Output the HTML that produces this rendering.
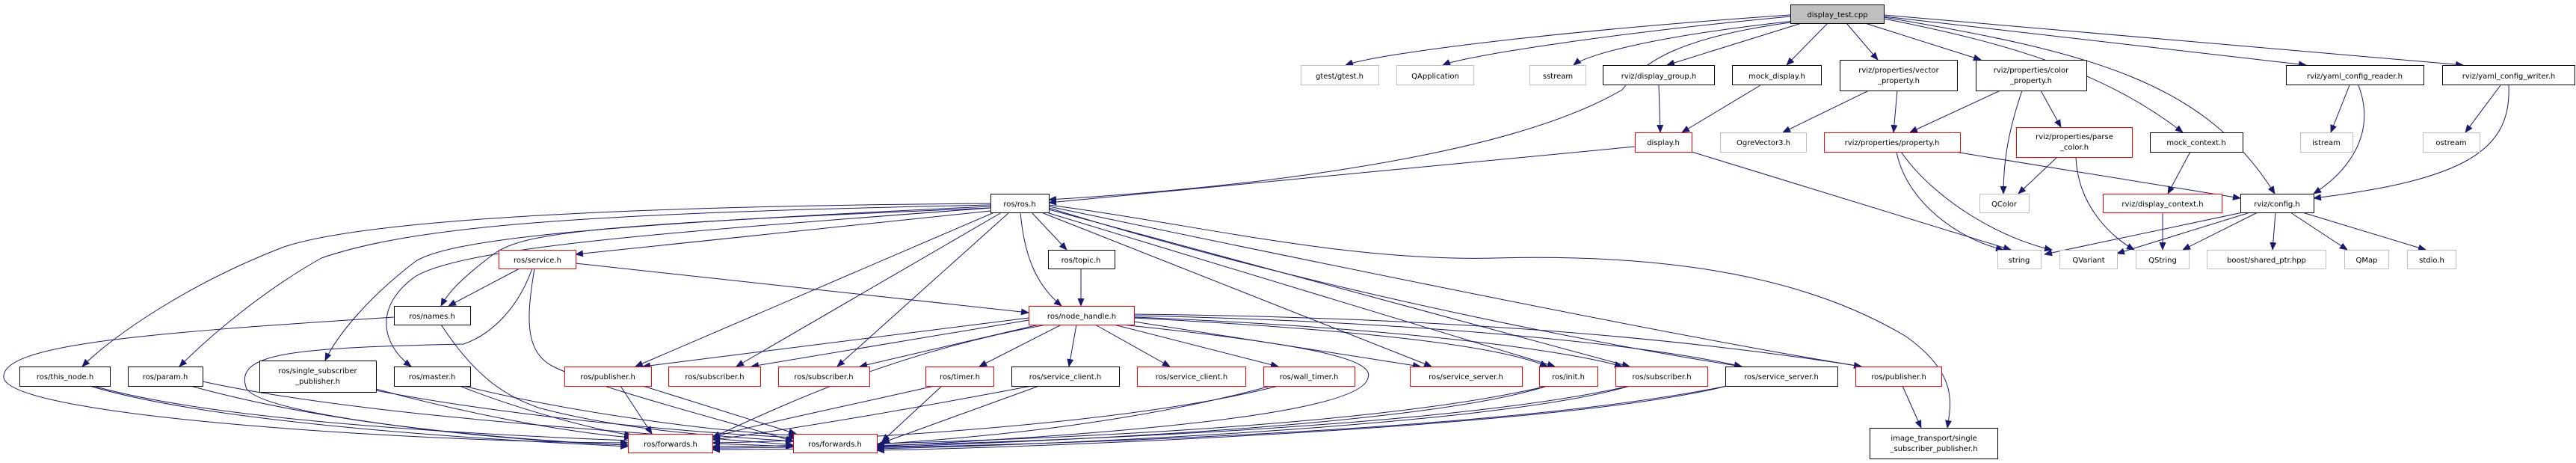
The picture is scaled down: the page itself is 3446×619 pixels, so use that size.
<!DOCTYPE html>
<html><head><meta charset="utf-8"><style>
html,body{margin:0;padding:0;background:#fff;}
svg{display:block}
text{font-family:"DejaVu Sans","Liberation Sans",sans-serif;font-size:10px;fill:#000;text-anchor:middle}
.e{fill:none;stroke:#191970;stroke-width:1;marker-end:url(#a)}
.k{fill:#fff;stroke:#000;stroke-width:1}
.r{fill:#fff;stroke:#ff0000;stroke-width:1}
.g{fill:#fff;stroke:#bfbfbf;stroke-width:1}
</style></head><body>
<svg width="3446" height="619" viewBox="0 0 3446 619" xmlns="http://www.w3.org/2000/svg">
<defs><marker id="a" markerUnits="userSpaceOnUse" markerWidth="11" markerHeight="9" refX="10" refY="4.5" orient="auto"><path d="M0,0 L11,4.5 L0,9 z" fill="#191970"/></marker></defs>
<g>
<path class="e" d="M2395,20 C2100,40 1850,70 1800,87"/>
<path class="e" d="M2395,22 C2150,45 1960,75 1930,87"/>
<path class="e" d="M2400,28 C2200,50 2120,75 2105,87"/>
<path class="e" d="M2410,31 L2230,87"/>
<path class="e" d="M2445,31 L2390,87"/>
<path class="e" d="M2470,31 L2512,80"/>
<path class="e" d="M2495,31 L2650,80"/>
<path class="e" d="M2520,25 C2700,60 2820,100 2920,177"/>
<path class="e" d="M2520,23 C2800,70 2950,110 3043,259"/>
<path class="e" d="M2520,22 L3085,87"/>
<path class="e" d="M2520,20 L3295,87"/>
<path class="e" d="M2395,30 C2250,50 2200,80 2170,120 C2000,220 1600,255 1403,267"/>
<path class="e" d="M2219,114 L2221,177"/>
<path class="e" d="M2355,114 L2250,177"/>
<path class="e" d="M2187,196 L1403,271"/>
<path class="e" d="M2263,203 L2690,334"/>
<path class="e" d="M2500,121 L2385,177"/>
<path class="e" d="M2538,121 L2533,177"/>
<path class="e" d="M2676,121 L2555,177"/>
<path class="e" d="M2705,121 C2685,180 2680,220 2680,259"/>
<path class="e" d="M2730,121 L2757,170"/>
<path class="e" d="M2615,203 L2997,265"/>
<path class="e" d="M2537,203 C2550,270 2620,320 2680,334"/>
<path class="e" d="M2543,203 C2590,270 2680,320 2745,334"/>
<path class="e" d="M2752,210 L2700,259"/>
<path class="e" d="M2777,210 C2780,280 2830,320 2855,334"/>
<path class="e" d="M2930,203 L2900,259"/>
<path class="e" d="M2893,284 L2893,334"/>
<path class="e" d="M3143,114 L3118,177"/>
<path class="e" d="M3155,114 C3180,180 3140,230 3095,259"/>
<path class="e" d="M3345,114 L3298,177"/>
<path class="e" d="M3356,114 C3360,200 3300,240 3095,265"/>
<path class="e" d="M3000,284 L2735,340"/>
<path class="e" d="M3010,284 L2832,339"/>
<path class="e" d="M3020,284 L2920,334"/>
<path class="e" d="M3044,284 L3040,334"/>
<path class="e" d="M3064,284 L3140,334"/>
<path class="e" d="M3080,284 L3245,334"/>
<path class="e" d="M1325,272 C900,275 500,290 380,330 C250,380 150,450 110,490"/>
<path class="e" d="M1325,274 C800,285 560,300 430,345 C350,390 280,450 240,490"/>
<path class="e" d="M1325,276 C800,300 600,320 555,350 C490,400 450,450 435,482"/>
<path class="e" d="M1325,278 C900,310 620,330 555,370 C500,410 510,460 550,490"/>
<path class="e" d="M1325,278 C800,300 700,310 660,340 C620,370 600,390 590,409"/>
<path class="e" d="M1325,282 L770,340"/>
<path class="e" d="M1330,284 L850,490"/>
<path class="e" d="M1340,284 L985,490"/>
<path class="e" d="M1350,284 L1120,490"/>
<path class="e" d="M1365,284 C1370,340 1385,380 1420,409"/>
<path class="e" d="M1380,284 L1427,334"/>
<path class="e" d="M1393,284 L1915,490"/>
<path class="e" d="M1400,284 L2080,490"/>
<path class="e" d="M1403,280 L2180,490"/>
<path class="e" d="M1403,278 C1800,400 2200,470 2330,490"/>
<path class="e" d="M1403,276 C1900,380 2300,460 2490,490"/>
<path class="e" d="M1403,274 C1600,300 1800,350 2000,345 C2200,340 2400,360 2550,450 C2620,500 2610,540 2605,572"/>
<path class="e" d="M1446,359 L1446,409"/>
<path class="e" d="M695,359 L600,409"/>
<path class="e" d="M770,352 L1376,418"/>
<path class="e" d="M712,359 C690,420 650,450 620,460 C400,465 310,470 330,520 C360,560 700,590 840,595"/>
<path class="e" d="M715,359 C705,420 700,470 740,490 C800,520 1000,570 1061,590"/>
<path class="e" d="M527,424 C200,445 0,460 5,505 C15,560 600,592 840,592"/>
<path class="e" d="M590,434 C640,510 680,530 720,545 C850,580 1000,585 1061,590"/>
<path class="e" d="M1376,425 L860,490"/>
<path class="e" d="M1376,428 L1005,490"/>
<path class="e" d="M1390,434 L1150,490"/>
<path class="e" d="M1420,434 L1310,490"/>
<path class="e" d="M1440,434 L1430,490"/>
<path class="e" d="M1465,434 L1565,490"/>
<path class="e" d="M1490,434 L1710,490"/>
<path class="e" d="M1517,430 L1900,490"/>
<path class="e" d="M1517,425 C1800,440 2000,460 2070,490"/>
<path class="e" d="M1517,424 C1900,440 2100,470 2170,490"/>
<path class="e" d="M1517,422 C1900,430 2200,460 2330,490"/>
<path class="e" d="M1517,420 C2000,425 2300,460 2490,490"/>
<path class="e" d="M1400,434 C1200,470 1050,540 953,585"/>
<path class="e" d="M1500,434 C1750,460 1840,480 1830,505 C1820,560 1400,585 1173,597"/>
<path class="e" d="M120,516 C300,570 700,590 840,597"/>
<path class="e" d="M125,516 C350,580 900,590 1061,597"/>
<path class="e" d="M255,516 C450,570 700,590 840,595"/>
<path class="e" d="M271,510 C500,560 900,580 1061,595"/>
<path class="e" d="M503,520 C650,560 780,580 845,585"/>
<path class="e" d="M503,522 C700,560 950,580 1065,585"/>
<path class="e" d="M615,516 C700,550 800,575 845,582"/>
<path class="e" d="M620,516 C800,560 1000,580 1065,582"/>
<path class="e" d="M830,516 L872,580"/>
<path class="e" d="M860,516 L1065,580"/>
<path class="e" d="M1250,516 C1100,550 1000,570 953,585"/>
<path class="e" d="M1260,516 L1180,590"/>
<path class="e" d="M1380,516 C1200,550 1050,575 953,588"/>
<path class="e" d="M1390,516 L1180,592"/>
<path class="e" d="M1710,516 C1500,570 1100,590 953,592"/>
<path class="e" d="M1700,516 C1500,570 1300,585 1173,594"/>
<path class="e" d="M2070,516 C1800,580 1200,595 953,597"/>
<path class="e" d="M2070,516 C1900,570 1400,590 1173,598"/>
<path class="e" d="M2180,516 C1900,580 1200,598 953,599"/>
<path class="e" d="M2180,516 C2000,570 1400,595 1173,600"/>
<path class="e" d="M2310,516 C2000,580 1300,600 953,601"/>
<path class="e" d="M2310,516 C2100,570 1400,598 1173,602"/>
<path class="e" d="M2545,516 L2570,572"/>
</g>
<g>
<rect x="2395.5" y="6.5" width="125" height="25" fill="#bfbfbf" stroke="#000"/><text x="2458" y="23">display_test.cpp</text>
<rect class="g" x="1740.5" y="87.5" width="104" height="26"/><text x="1792" y="105">gtest/gtest.h</text>
<rect class="g" x="1868.5" y="87.5" width="103" height="26"/><text x="1920" y="105">QApplication</text>
<rect class="g" x="2046.5" y="87.5" width="75" height="26"/><text x="2084" y="105">sstream</text>
<rect class="k" x="2144.5" y="87.5" width="149" height="26"/><text x="2219" y="105">rviz/display_group.h</text>
<rect class="k" x="2317.5" y="87.5" width="119" height="26"/><text x="2377" y="105">mock_display.h</text>
<rect class="k" x="2461.5" y="80.5" width="157" height="41"/><text x="2540" y="97">rviz/properties/vector</text><text x="2540" y="111">_property.h</text>
<rect class="k" x="2643.5" y="80.5" width="148" height="41"/><text x="2717" y="97">rviz/properties/color</text><text x="2717" y="111">_property.h</text>
<rect class="k" x="3058.5" y="87.5" width="184" height="26"/><text x="3150" y="105">rviz/yaml_config_reader.h</text>
<rect class="k" x="3267.5" y="87.5" width="177" height="26"/><text x="3356" y="105">rviz/yaml_config_writer.h</text>
<rect class="g" x="2301.5" y="177.5" width="115" height="26"/><text x="2359" y="194">OgreVector3.h</text>
<rect class="r" x="2187.5" y="177.5" width="76" height="26"/><text x="2225" y="194">display.h</text>
<rect class="r" x="2440.5" y="177.5" width="182" height="26"/><text x="2531" y="194">rviz/properties/property.h</text>
<rect class="r" x="2697.5" y="170.5" width="155" height="40"/><text x="2775" y="186">rviz/properties/parse</text><text x="2775" y="200">_color.h</text>
<rect class="k" x="2876.5" y="177.5" width="124" height="26"/><text x="2938" y="194">mock_context.h</text>
<rect class="g" x="3077.5" y="177.5" width="70" height="26"/><text x="3112" y="194">istream</text>
<rect class="g" x="3241.5" y="177.5" width="76" height="26"/><text x="3279" y="194">ostream</text>
<rect class="k" x="1325.5" y="259.5" width="78" height="25"/><text x="1364" y="276">ros/ros.h</text>
<rect class="g" x="2648.5" y="259.5" width="66" height="25"/><text x="2681" y="276">QColor</text>
<rect class="r" x="2813.5" y="259.5" width="159" height="25"/><text x="2893" y="276">rviz/display_context.h</text>
<rect class="k" x="2997.5" y="259.5" width="98" height="25"/><text x="3046" y="276">rviz/config.h</text>
<rect class="r" x="667.5" y="334.5" width="103" height="25"/><text x="719" y="351">ros/service.h</text>
<rect class="k" x="1402.5" y="334.5" width="89" height="25"/><text x="1446" y="351">ros/topic.h</text>
<rect class="g" x="2672.5" y="334.5" width="58" height="25"/><text x="2701" y="351">string</text>
<rect class="g" x="2755.5" y="334.5" width="77" height="25"/><text x="2794" y="351">QVariant</text>
<rect class="g" x="2857.5" y="334.5" width="71" height="25"/><text x="2893" y="351">QString</text>
<rect class="g" x="2952.5" y="334.5" width="159" height="25"/><text x="3032" y="351">boost/shared_ptr.hpp</text>
<rect class="g" x="3136.5" y="334.5" width="59" height="25"/><text x="3166" y="351">QMap</text>
<rect class="g" x="3220.5" y="334.5" width="65" height="25"/><text x="3253" y="351">stdio.h</text>
<rect class="k" x="527.5" y="409.5" width="102" height="25"/><text x="578" y="426">ros/names.h</text>
<rect class="r" x="1376.5" y="409.5" width="141" height="25"/><text x="1447" y="426">ros/node_handle.h</text>
<rect class="k" x="26.5" y="490.5" width="121" height="26"/><text x="87" y="507">ros/this_node.h</text>
<rect class="k" x="171.5" y="490.5" width="100" height="26"/><text x="221" y="507">ros/param.h</text>
<rect class="k" x="347.5" y="482.5" width="156" height="42"/><text x="425" y="499">ros/single_subscriber</text><text x="425" y="513">_publisher.h</text>
<rect class="k" x="527.5" y="490.5" width="102" height="26"/><text x="578" y="507">ros/master.h</text>
<rect class="r" x="755.5" y="490.5" width="116" height="26"/><text x="813" y="507">ros/publisher.h</text>
<rect class="r" x="894.5" y="490.5" width="123" height="26"/><text x="956" y="507">ros/subscriber.h</text>
<rect class="r" x="1041.5" y="490.5" width="122" height="26"/><text x="1102" y="507">ros/subscriber.h</text>
<rect class="r" x="1238.5" y="490.5" width="91" height="26"/><text x="1284" y="507">ros/timer.h</text>
<rect class="k" x="1353.5" y="490.5" width="144" height="26"/><text x="1425" y="507">ros/service_client.h</text>
<rect class="r" x="1521.5" y="490.5" width="145" height="26"/><text x="1594" y="507">ros/service_client.h</text>
<rect class="r" x="1690.5" y="490.5" width="122" height="26"/><text x="1751" y="507">ros/wall_timer.h</text>
<rect class="r" x="1886.5" y="490.5" width="150" height="26"/><text x="1961" y="507">ros/service_server.h</text>
<rect class="r" x="2059.5" y="490.5" width="78" height="26"/><text x="2098" y="507">ros/init.h</text>
<rect class="r" x="2161.5" y="490.5" width="123" height="26"/><text x="2223" y="507">ros/subscriber.h</text>
<rect class="k" x="2308.5" y="490.5" width="150" height="26"/><text x="2383" y="507">ros/service_server.h</text>
<rect class="r" x="2482.5" y="490.5" width="115" height="26"/><text x="2540" y="507">ros/publisher.h</text>
<rect class="r" x="840.5" y="580.5" width="113" height="25"/><text x="897" y="597">ros/forwards.h</text>
<rect class="r" x="1061.5" y="580.5" width="112" height="25"/><text x="1117" y="597">ros/forwards.h</text>
<rect class="k" x="2501.5" y="572.5" width="171" height="41"/><text x="2587" y="589">image_transport/single</text><text x="2587" y="603">_subscriber_publisher.h</text>
</g>
</svg>
</body></html>
